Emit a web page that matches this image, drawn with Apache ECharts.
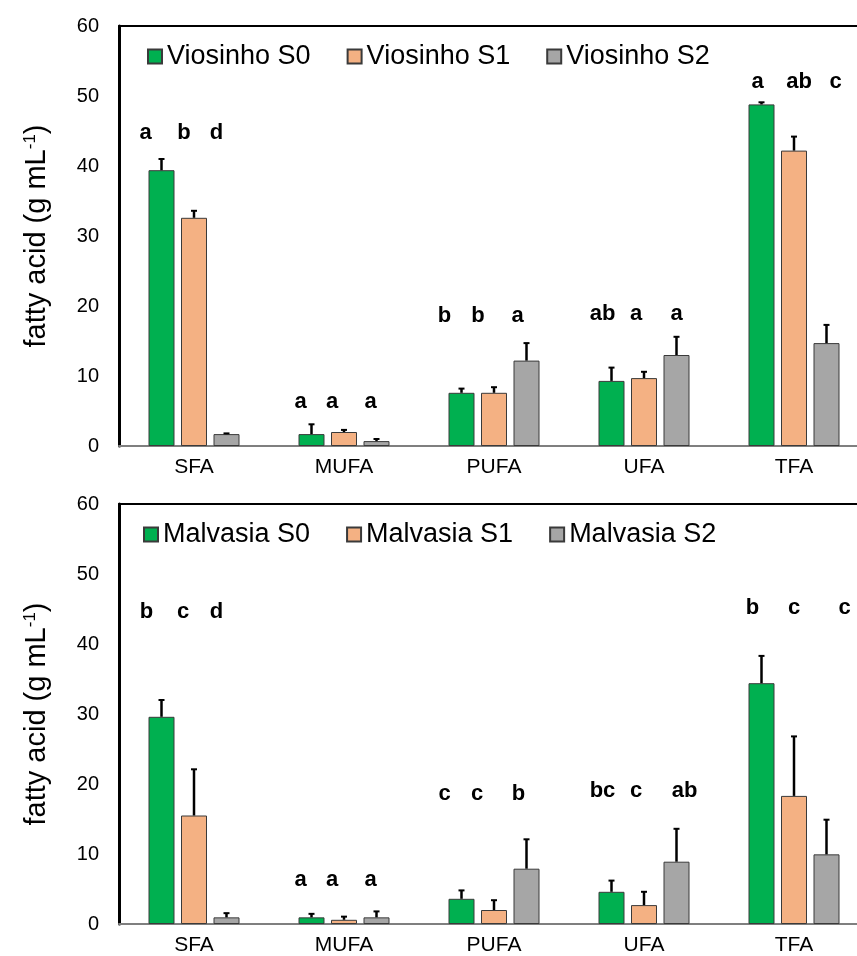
<!DOCTYPE html>
<html>
<head>
<meta charset="utf-8">
<script src="https://cdn.jsdelivr.net/npm/echarts@6/dist/echarts.min.js"></script>
<style>
html,body{margin:0;padding:0;background:#fff;overflow:hidden;}
#chart{width:857px;height:956px;}
</style>
</head>
<body>
<div id="chart"></div>
<script>
// ---- data ----
const categories = ['SFA', 'MUFA', 'PUFA', 'UFA', 'TFA'];
const yTicks = [0, 10, 20, 30, 40, 50, 60];

const viosinhoNames = ['Viosinho S0', 'Viosinho S1', 'Viosinho S2'];
const viosinhoS0 = [39.4, 1.7, 7.6, 9.3, 48.8];
const viosinhoS1 = [32.6, 2.0, 7.6, 9.7, 42.2];
const viosinhoS2 = [1.7, 0.7, 12.2, 13.0, 14.7];
const viosinhoS0Err = [1.6, 1.4, 0.6, 1.9, 0.3];
const viosinhoS1Err = [1.0, 0.3, 0.8, 0.9, 2.0];
const viosinhoS2Err = [0.1, 0.3, 2.5, 2.6, 2.6];
const viosinhoS0Letters = ['a', 'a', 'b', 'ab', 'a'];
const viosinhoS1Letters = ['b', 'a', 'b', 'a', 'ab'];
const viosinhoS2Letters = ['d', 'a', 'a', 'a', 'c'];
const viosinhoLetterLevel = [44.1, 5.6, 18.0, 18.2, 51.4];

const malvasiaNames = ['Malvasia S0', 'Malvasia S1', 'Malvasia S2'];
const malvasiaS0 = [29.6, 0.95, 3.6, 4.6, 34.4];
const malvasiaS1 = [15.5, 0.6, 2.0, 2.7, 18.3];
const malvasiaS2 = [0.95, 0.95, 7.9, 8.9, 9.95];
const malvasiaS0Err = [2.4, 0.5, 1.2, 1.6, 3.9];
const malvasiaS1Err = [6.6, 0.45, 1.4, 1.9, 8.5];
const malvasiaS2Err = [0.6, 0.85, 4.2, 4.7, 4.95];
const malvasiaS0Letters = ['b', 'a', 'c', 'bc', 'b'];
const malvasiaS1Letters = ['c', 'a', 'c', 'c', 'c'];
const malvasiaS2Letters = ['d', 'a', 'b', 'ab', 'c'];
const malvasiaLetterLevel = [44.0, 5.6, 17.9, 18.3, 44.5];

// ---- layout / styles ----
const FONT = "'Liberation Sans', Arial, sans-serif";
const colors = ['#00B050', '#F4B183', '#A6A6A6'];
const BAR_W = 26;
const BAR_GAP = 0.25;
const STEP = BAR_W * (1 + BAR_GAP);
// horizontal nudges (px) of the significance letters relative to their bar, [series][category]
const viosinhoLetterNudge = [[-16, -11, -17, -9, -4], [-10, -12, -16, -8, 5], [-10, -6, -9, 0, 9]];
const malvasiaLetterNudge = [[-15, -11, -17, -9, -9], [-11, -12, -17, -8, 0], [-10, -6, -8, 8, 18]];

const grids = [
  {left: 119, top: 26, width: 750, height: 420},
  {left: 119, top: 504, width: 750, height: 420}
];

function panelSeries(g, names, vals, errs, letters, levels, nudges) {
  const out = [];
  for (let i = 0; i < 3; i++) {
    out.push({
      type: 'bar', name: names[i], xAxisIndex: g, yAxisIndex: g,
      data: vals[i], barWidth: BAR_W, barGap: (BAR_GAP * 100) + '%',
      itemStyle: {color: colors[i], borderColor: '#3a3a3a', borderWidth: 1},
      emphasis: {disabled: true}, z: 2
    });
  }
  for (let i = 0; i < 3; i++) {
    const off = (i - 1) * STEP;
    out.push({
      type: 'custom', name: names[i] + ' err', xAxisIndex: g, yAxisIndex: g, z: 5, silent: true,
      data: vals[i].map((v, k) => [k, v, errs[i][k]]),
      renderItem: function (params, api) {
        const k = api.value(0);
        const base = api.coord([k, api.value(1)]);
        const top = api.coord([k, api.value(1) + api.value(2)]);
        const x = base[0] + off;
        return {type: 'group', children: [
          {type: 'line', shape: {x1: x, y1: base[1], x2: x, y2: top[1]}, style: {stroke: '#000', lineWidth: 2.5}},
          {type: 'line', shape: {x1: x - 3, y1: top[1], x2: x + 3, y2: top[1]}, style: {stroke: '#000', lineWidth: 2}}
        ]};
      }
    });
    out.push({
      type: 'custom', name: names[i] + ' letters', xAxisIndex: g, yAxisIndex: g, z: 6, silent: true,
      data: levels.map((lv, k) => [k, lv]),
      renderItem: function (params, api) {
        const k = api.value(0);
        const p = api.coord([k, api.value(1)]);
        return {type: 'text', x: p[0] + off + nudges[i][params.dataIndex], y: p[1] - 4.5,
          style: {text: letters[i][params.dataIndex], fontSize: 22, fontWeight: 'bold', fontFamily: FONT,
            fill: '#000', align: 'center', verticalAlign: 'middle'}};
      }
    });
  }
  return out;
}

const series = [].concat(
  panelSeries(0, viosinhoNames, [viosinhoS0, viosinhoS1, viosinhoS2],
    [viosinhoS0Err, viosinhoS1Err, viosinhoS2Err],
    [viosinhoS0Letters, viosinhoS1Letters, viosinhoS2Letters], viosinhoLetterLevel, viosinhoLetterNudge),
  panelSeries(1, malvasiaNames, [malvasiaS0, malvasiaS1, malvasiaS2],
    [malvasiaS0Err, malvasiaS1Err, malvasiaS2Err],
    [malvasiaS0Letters, malvasiaS1Letters, malvasiaS2Letters], malvasiaLetterLevel, malvasiaLetterNudge)
);

function xAxisFor(g) {
  return {
    gridIndex: g, type: 'category', data: categories,
    axisLine: {show: true, lineStyle: {color: '#7f7f7f', width: 2}},
    axisTick: {show: false},
    axisLabel: {fontSize: 21, color: '#000', margin: 11, fontFamily: FONT},
    splitLine: {show: false}
  };
}
function topAxisFor(g) {
  return {
    gridIndex: g, type: 'category', data: categories, position: 'top',
    axisLine: {show: true, lineStyle: {color: '#000', width: 2}},
    axisTick: {show: false}, axisLabel: {show: false}, splitLine: {show: false}
  };
}
function yAxisFor(g) {
  return {
    gridIndex: g, type: 'value', min: yTicks[0], max: yTicks[yTicks.length - 1], interval: 10,
    axisLine: {show: true, lineStyle: {color: '#000', width: 3}},
    axisTick: {show: false},
    splitLine: {show: false},
    axisLabel: {fontSize: 20, color: '#000', margin: 20, fontFamily: FONT},
    name: 'fatty acid (g mL{sup|-1})',
    nameLocation: 'middle', nameRotate: 90, nameGap: 68,
    nameTextStyle: {fontSize: 29, color: '#000', fontFamily: FONT,
      rich: {sup: {fontSize: 17, verticalAlign: 'top', color: '#000', fontFamily: FONT}}}
  };
}

function legendFor(names, left, top) {
  return {
    data: names, left: left, top: top, padding: 0, itemGap: 36,
    itemWidth: 14, itemHeight: 14, icon: 'rect', orient: 'horizontal',
    selectedMode: false,
    textStyle: {fontSize: 27, color: '#000', fontFamily: FONT}
  };
}

const chart = echarts.init(document.getElementById('chart'), null, {renderer: 'canvas'});
chart.setOption({
  animation: false,
  backgroundColor: '#fff',
  grid: grids.map(gr => Object.assign({show: false, containLabel: false, outerBoundsMode: 'none'}, gr)),
  legend: [legendFor(viosinhoNames, 147, 43), legendFor(malvasiaNames, 143, 521)],
  xAxis: [xAxisFor(0), xAxisFor(1), topAxisFor(0), topAxisFor(1)],
  yAxis: [yAxisFor(0), yAxisFor(1)],
  series: series
});
</script>
</body>
</html>
